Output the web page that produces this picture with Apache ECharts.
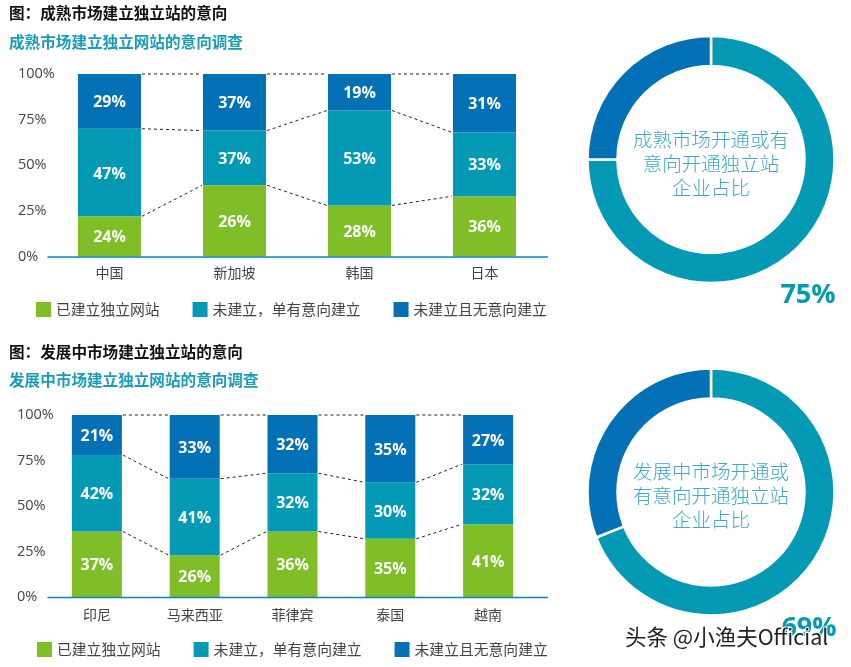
<!DOCTYPE html>
<html>
<head>
<meta charset="utf-8">
<style>html,body{margin:0;padding:0;background:#fff}#chart{width:851px;height:667px}</style>
<script src="https://cdn.jsdelivr.net/npm/echarts@6/dist/echarts.min.js"></script>
</head>
<body>
<div id="chart"></div>
<script>
var seriesNames = ['已建立独立网站', '未建立，单有意向建立', '未建立且无意向建立'];
var yTicks = [0, 25, 50, 75, 100];

var matureCats = ['中国', '新加坡', '韩国', '日本'];
// bar heights as drawn (they differ from the printed percentages in the source)
var matureBuilt = [22, 39, 28, 33];
var matureIntend = [48, 30, 52, 35];
var matureNone = [30, 31, 20, 32];
var matureBuiltText = [24, 26, 28, 36];
var matureIntendText = [47, 37, 53, 33];
var matureNoneText = [29, 37, 19, 31];

var devCats = ['印尼', '马来西亚', '菲律宾', '泰国', '越南'];
var devBuilt = [36, 23, 36, 32, 40];
var devIntend = [42, 42, 32, 31, 33];
var devNone = [22, 35, 32, 37, 27];
var devBuiltText = [37, 26, 36, 35, 41];
var devIntendText = [42, 41, 32, 30, 32];
var devNoneText = [21, 33, 32, 35, 27];

var maturePie = [75, 25];
var devPie = [69, 31];

var GREEN = '#7fbe26', TEAL = '#049ab6', BLUE = '#0470b6';
var colors = [GREEN, TEAL, BLUE];
var cjk = '"Noto Sans CJK SC", sans-serif';
var num = '"Open Sans", sans-serif';

function barSeries(idx, name, values, texts, barWidth) {
    return {
        type: 'bar', name: name, xAxisIndex: idx, yAxisIndex: idx,
        stack: 's' + idx, barWidth: barWidth, data: values,
        itemStyle: {color: colors[seriesNames.indexOf(name)]},
        label: {
            show: true, position: 'inside', offset: [0, 1.5], color: '#fff',
            fontFamily: num, fontWeight: 'bold', fontSize: 16,
            formatter: function (p) { return texts[p.dataIndex] + '%'; }
        }
    };
}

// dashed links between neighbouring bars, at each stack boundary
function linkSeries(idx, built, intend, barWidth) {
    var links = [];
    for (var i = 0; i < built.length - 1; i++) {
        links.push([i, built[i], built[i + 1]]);
        links.push([i, built[i] + intend[i], built[i + 1] + intend[i + 1]]);
        links.push([i, 100, 100]);
    }
    return {
        type: 'custom', xAxisIndex: idx, yAxisIndex: idx, silent: true, z: 3,
        encode: {x: 0, y: 1},
        data: links,
        renderItem: function (params, api) {
            var a = api.coord([api.value(0), api.value(1)]);
            var b = api.coord([api.value(0) + 1, api.value(2)]);
            return {
                type: 'line',
                shape: {x1: a[0] + barWidth / 2 + 1, y1: a[1], x2: b[0] - barWidth / 2 - 1, y2: b[1]},
                style: {stroke: '#222', lineWidth: 1, lineDash: [3, 3]}
            };
        }
    };
}

function pieSeries(values, center) {
    return {
        type: 'pie', center: center, radius: [93.5, 123.5], startAngle: 90, clockwise: true,
        silent: true, label: {show: false}, labelLine: {show: false},
        itemStyle: {borderColor: '#fff', borderWidth: 2.5},
        data: [
            {value: values[0], itemStyle: {color: TEAL}},
            {value: values[1], itemStyle: {color: BLUE}}
        ]
    };
}

function xAxis(idx, cats, margin) {
    return {
        type: 'category', gridIndex: idx, data: cats,
        axisLine: {show: false}, axisTick: {show: false},
        axisLabel: {fontFamily: cjk, fontSize: 14, color: '#444', margin: margin}
    };
}

function yAxis(idx, margin) {
    return {
        type: 'value', gridIndex: idx, min: yTicks[0], max: yTicks[4], interval: yTicks[1],
        splitLine: {show: false}, axisLine: {show: false}, axisTick: {show: false},
        axisLabel: {
            fontFamily: num, fontSize: 14.5, color: '#444', align: 'left', margin: margin,
            formatter: '{value}%'
        }
    };
}

function legend(left, top) {
    return {
        data: seriesNames, left: left, top: top, itemWidth: 15, itemHeight: 15, itemGap: 33,
        icon: 'rect', selectedMode: false, padding: 0,
        textStyle: {fontFamily: cjk, fontSize: 14.8, color: '#444'}
    };
}

function heading(text, y, color) {
    return {
        text: text, left: 9, top: y, padding: 0,
        textStyle: {fontFamily: cjk, fontWeight: 'bold', fontSize: 15.6, color: color}
    };
}

function donutText(lines, y) {
    return {
        text: lines, left: 711, top: y, textAlign: 'center', padding: 0,
        textStyle: {fontFamily: cjk, fontWeight: 300, fontSize: 19.5, lineHeight: 24, color: '#3fa8c2'}
    };
}

var option = {
    animation: false,
    backgroundColor: '#fff',
    title: [
        heading('图：成熟市场建立独立站的意向', 5, '#111'),
        heading('成熟市场建立独立网站的意向调查', 34, '#1a9cb6'),
        heading('图：发展中市场建立独立站的意向', 344, '#111'),
        heading('发展中市场建立独立网站的意向调查', 372, '#1a9cb6'),
        donutText('成熟市场开通或有\n意向开通独立站\n企业占比', 128),
        donutText('发展中市场开通或\n有意向开通独立站\n企业占比', 460),
        {text: '75%', left: 808, top: 282, textAlign: 'center', padding: 0,
            textStyle: {fontFamily: num, fontWeight: 'bold', fontSize: 27, color: TEAL}},
        {text: '69%', left: 809, top: 615, textAlign: 'center', padding: 0,
            textStyle: {fontFamily: num, fontWeight: 'bold', fontSize: 27, color: TEAL}}
    ],
    legend: [legend(36, 302), legend(37, 642)],
    grid: [
        {left: 47, width: 500, top: 74, height: 182.5},
        {left: 48, width: 489, top: 415, height: 182}
    ],
    xAxis: [xAxis(0, matureCats, 9), xAxis(1, devCats, 11)],
    yAxis: [yAxis(0, 29), yAxis(1, 31)],
    series: [
        barSeries(0, seriesNames[0], matureBuilt, matureBuiltText, 63),
        barSeries(0, seriesNames[1], matureIntend, matureIntendText, 63),
        barSeries(0, seriesNames[2], matureNone, matureNoneText, 63),
        linkSeries(0, matureBuilt, matureIntend, 63),
        barSeries(1, seriesNames[0], devBuilt, devBuiltText, 50),
        barSeries(1, seriesNames[1], devIntend, devIntendText, 50),
        barSeries(1, seriesNames[2], devNone, devNoneText, 50),
        linkSeries(1, devBuilt, devIntend, 50),
        pieSeries(maturePie, [711, 159.5]),
        pieSeries(devPie, [711, 492])
    ],
    graphic: [
        {type: 'line', z: 5, shape: {x1: 47.5, y1: 257, x2: 548, y2: 257}, style: {stroke: '#0a84bf', lineWidth: 1.6}},
        {type: 'line', z: 5, shape: {x1: 47.5, y1: 597.5, x2: 548, y2: 597.5}, style: {stroke: '#0a84bf', lineWidth: 1.6}},
        {type: 'text', z: 10, left: 624, top: 625, style: {
            text: '头条 @小渔夫Official', fontFamily: cjk, fontSize: 21.5,
            fill: '#222', stroke: '#fff', lineWidth: 2
        }}
    ]
};

var chart = echarts.init(document.getElementById('chart'));
chart.setOption(option);
</script>
</body>
</html>
